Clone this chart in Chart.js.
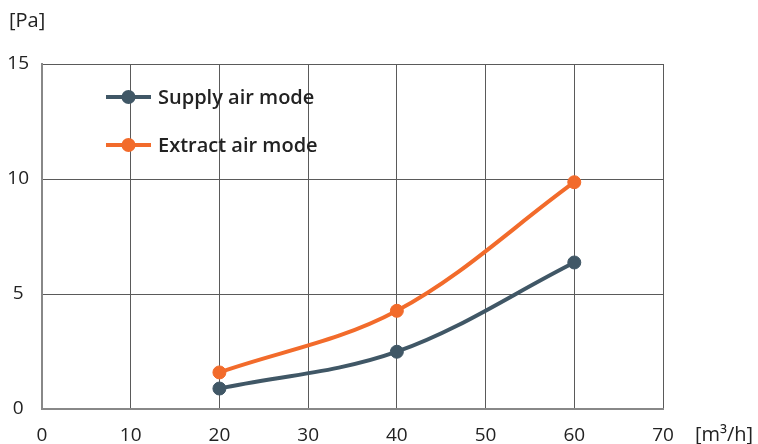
<!DOCTYPE html>
<html>
<head>
<meta charset="utf-8">
<script src="https://cdn.jsdelivr.net/npm/chart.js@4/dist/chart.umd.min.js"></script>
<style>
  html, body { margin: 0; padding: 0; background: #fff; }
  #wrap { position: relative; width: 758px; height: 444px; }
</style>
</head>
<body>
<div id="wrap"><canvas id="chart" width="758" height="444"></canvas></div>
<script>
// Data
const airflow = [20, 40, 60];               // [m3/h]
const supplyPressure = [0.89, 2.49, 6.37];  // [Pa]
const extractPressure = [1.59, 4.27, 9.86]; // [Pa]
const seriesLabels = ['Supply air mode', 'Extract air mode'];
const xTicks = [0, 10, 20, 30, 40, 50, 60, 70];
const yTicks = [0, 5, 10, 15];
const xUnit = '[m³/h]';
const yUnit = '[Pa]';

const supplyColor = '#405766';
const extractColor = '#f26b2b';
const textColor = '#222';
const tickFont = { family: 'Open Sans', size: 19, weight: '400' };

// Legend drawn inside the plot, top-left
const innerLegend = {
    id: 'innerLegend',
    afterDraw(chart) {
        const ctx = chart.ctx;
        const rows = [97, 145];
        ctx.save();
        chart.data.datasets.forEach((ds, i) => {
            const y = rows[i];
            ctx.strokeStyle = ds.borderColor;
            ctx.lineWidth = 4;
            ctx.beginPath();
            ctx.moveTo(106, y);
            ctx.lineTo(151, y);
            ctx.stroke();
            ctx.fillStyle = ds.borderColor;
            ctx.beginPath();
            ctx.arc(128.5, y, 7, 0, 2 * Math.PI);
            ctx.fill();
            ctx.fillStyle = textColor;
            ctx.font = '600 20px "Open Sans"';
            ctx.textBaseline = 'middle';
            ctx.textAlign = 'left';
            ctx.fillText(ds.label, 158, y + 1);
        });
        ctx.restore();
    }
};

// Unit labels
const unitLabels = {
    id: 'unitLabels',
    afterDraw(chart) {
        const ctx = chart.ctx;
        ctx.save();
        ctx.fillStyle = textColor;
        ctx.font = '400 20px "Open Sans"';
        ctx.textBaseline = 'middle';
        ctx.textAlign = 'left';
        ctx.fillText(yUnit, 9, 21);
        ctx.fillText(xUnit, 695, 435);
        ctx.restore();
    }
};

new Chart(document.getElementById('chart'), {
    type: 'line',
    data: {
        datasets: [
            {
                label: seriesLabels[0],
                data: airflow.map((x, i) => ({ x, y: supplyPressure[i] })),
                borderColor: supplyColor,
                backgroundColor: supplyColor,
                borderWidth: 4,
                pointRadius: 6.5,
                pointHoverRadius: 6.5,
                pointBorderWidth: 1,
                tension: 0.35,
                fill: false,
            },
            {
                label: seriesLabels[1],
                data: airflow.map((x, i) => ({ x, y: extractPressure[i] })),
                borderColor: extractColor,
                backgroundColor: extractColor,
                borderWidth: 4,
                pointRadius: 6.5,
                pointHoverRadius: 6.5,
                pointBorderWidth: 1,
                tension: 0.35,
                fill: false,
            },
        ],
    },
    options: {
        responsive: false,
        animation: false,
        layout: { padding: { top: 64, right: 95, left: 0, bottom: 0 } },
        plugins: {
            legend: { display: false },
            tooltip: { enabled: false },
        },
        scales: {
            x: {
                type: 'linear',
                min: 0,
                max: 70,
                afterBuildTicks: (s) => { s.ticks = xTicks.map(v => ({ value: v })); },
                afterFit: (s) => { s.height = 35; },
                grid: { color: '#5a5a5a', lineWidth: 1, drawTicks: false },
                border: { color: '#888', width: 2 },
                ticks: { font: tickFont, color: textColor, padding: 15, maxRotation: 0 },
            },
            y: {
                min: 0,
                max: 15,
                afterBuildTicks: (s) => { s.ticks = yTicks.map(v => ({ value: v })); },
                afterFit: (s) => { s.width = 42; },
                grid: { color: '#5a5a5a', lineWidth: 1, drawTicks: false },
                border: { color: '#888', width: 2 },
                ticks: { font: tickFont, color: textColor, padding: 13, crossAlign: 'center' },
            },
        },
    },
    plugins: [innerLegend, unitLabels],
});
</script>
</body>
</html>
